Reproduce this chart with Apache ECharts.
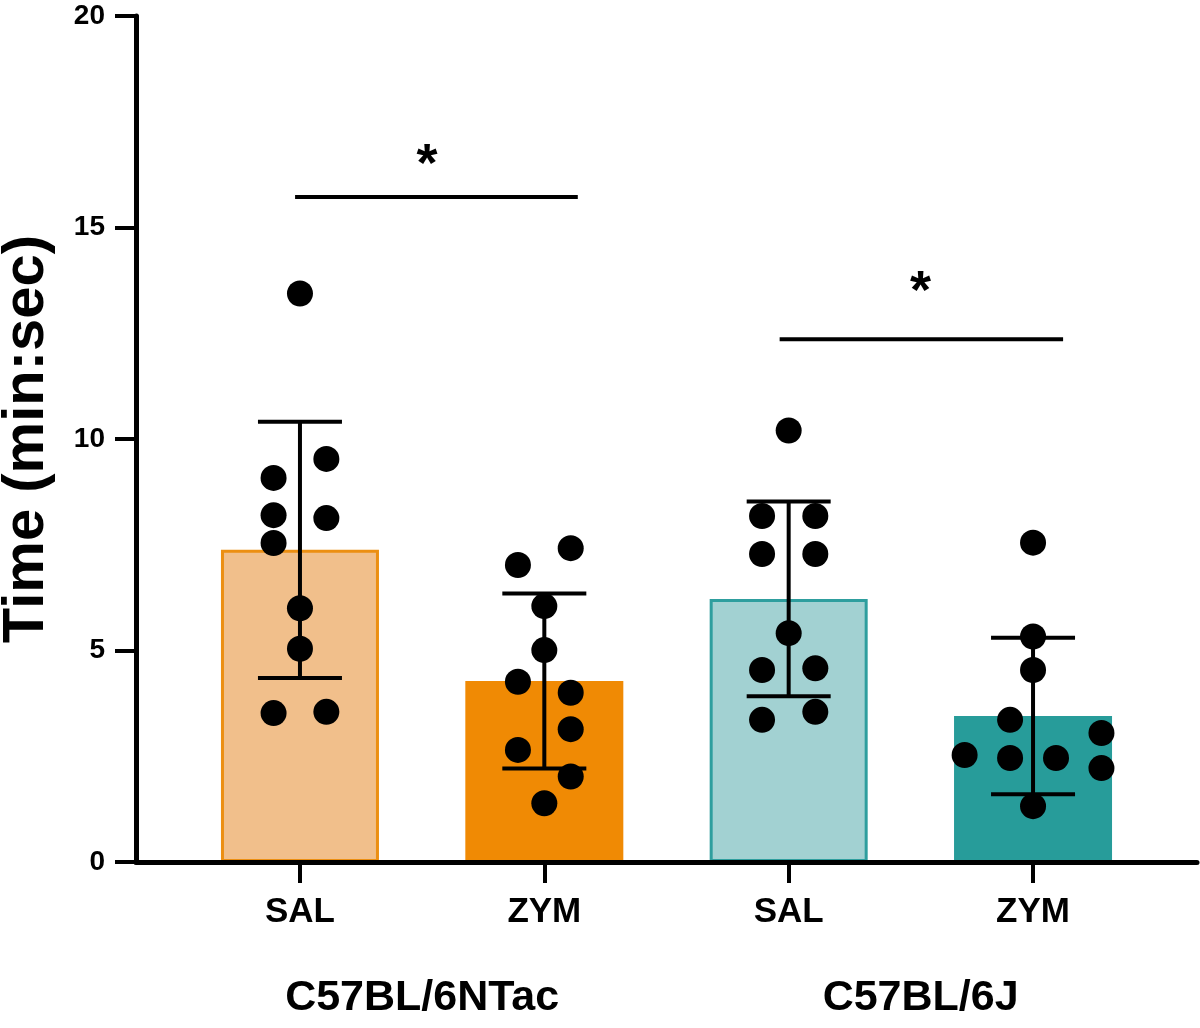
<!DOCTYPE html>
<html>
<head>
<meta charset="utf-8">
<script src="https://cdn.jsdelivr.net/npm/echarts@6/dist/echarts.min.js"></script>
<style>
  html, body { margin: 0; padding: 0; background: #ffffff; }
  #chart { width: 1200px; height: 1028px; }
</style>
</head>
<body>
<div id="chart"></div>
<script>
// ---- data ----
const categories = ['SAL', 'ZYM', 'SAL', 'ZYM'];
const categoryPos = [1, 2, 3, 4];
const groups = ['C57BL/6NTac', 'C57BL/6J'];
const groupPos = [1.5, 3.54];
const yTicks = [0, 5, 10, 15, 20];

const means = [7.38, 4.28, 6.22, 3.45];
const sds = [3.03, 2.07, 2.30, 1.85];

const dotsSal6N = [13.44, 9.53, 9.08, 8.20, 8.13, 7.54, 6.00, 5.04, 3.52, 3.55];
const jitSal6N  = [0, 0.108, -0.108, -0.108, 0.108, -0.108, 0, 0, -0.108, 0.108];
const dotsZym6N = [7.42, 7.02, 6.05, 5.01, 4.26, 4.00, 3.14, 2.65, 2.02, 1.39];
const jitZym6N  = [0.108, -0.108, 0, 0, -0.108, 0.108, 0.108, -0.108, 0.108, 0];
const dotsSal6J = [10.20, 8.18, 8.18, 7.28, 7.28, 5.41, 4.54, 4.58, 3.36, 3.55];
const jitSal6J  = [0, -0.109, 0.109, -0.109, 0.109, 0, -0.109, 0.109, -0.109, 0.109];
const dotsZym6J = [7.55, 5.33, 4.54, 3.36, 3.05, 2.53, 2.46, 2.46, 2.22, 1.32];
const jitZym6J  = [0, 0, 0, -0.094, 0.28, -0.28, -0.094, 0.094, 0.28, 0];

const sigFrom = [0.98, 2.963];
const sigTo   = [2.137, 4.123];
const sigY    = [15.72, 12.36];
const starX   = [1.52, 3.54];
const starY   = [16.45, 13.45];
const starText = ['*', '*'];

// ---- styles ----
const FONT = 'Liberation Sans';
const barStyles = [
  { color: '#F1BF8B', borderColor: '#EC8F12', borderWidth: 3, opacity: 1 },
  { color: '#F08A04', borderColor: '#F08A04', borderWidth: 0, opacity: 1 },
  { color: '#A2D1D2', borderColor: '#2E9E9E', borderWidth: 3, opacity: 1 },
  { color: '#279C9A', borderColor: '#279C9A', borderWidth: 0, opacity: 1 }
];

const allDots = [];
[[dotsSal6N, jitSal6N], [dotsZym6N, jitZym6N], [dotsSal6J, jitSal6J], [dotsZym6J, jitZym6J]]
  .forEach(function (pair, i) {
    pair[0].forEach(function (v, k) { allDots.push([categoryPos[i] + pair[1][k], v]); });
  });

const chart = echarts.init(document.getElementById('chart'), null, { renderer: 'canvas' });
chart.setOption({
  animation: false,
  backgroundColor: '#ffffff',
  grid: { left: 136, right: 3, top: 16, bottom: 166, outerBoundsMode: 'none' },
  xAxis: [
    {
      type: 'value', min: 0.329, max: 4.671, position: 'bottom', z: 10,
      axisLine: { show: true, lineStyle: { color: '#000', width: 5 } },
      axisTick: { show: true, customValues: categoryPos, length: 21, lineStyle: { color: '#000', width: 4 } },
      axisLabel: {
        show: true, customValues: categoryPos, margin: 33,
        fontFamily: FONT, fontWeight: 'bold', fontSize: 35, color: '#000',
        formatter: function (v) { return categories[categoryPos.indexOf(Math.round(v))] || ''; }
      },
      splitLine: { show: false }
    },
    {
      type: 'value', min: 0.329, max: 4.671, position: 'bottom', offset: 0,
      axisLine: { show: false }, axisTick: { show: false }, splitLine: { show: false },
      axisLabel: {
        show: true, customValues: groupPos, margin: 115,
        fontFamily: FONT, fontWeight: 'bold', fontSize: 43, color: '#000',
        formatter: function (v) {
          for (let i = 0; i < groupPos.length; i++) { if (Math.abs(groupPos[i] - v) < 1e-6) return groups[i]; }
          return '';
        }
      }
    }
  ],
  yAxis: {
    type: 'value', min: 0, max: 20, interval: 5, z: 10,
    name: 'Time (min:sec)', nameLocation: 'middle', nameGap: 80,
    nameTextStyle: { fontFamily: FONT, fontWeight: 'bold', fontSize: 58, color: '#000' },
    axisLine: { show: true, lineStyle: { color: '#000', width: 5 } },
    axisTick: { show: true, length: 21, lineStyle: { color: '#000', width: 4 } },
    axisLabel: {
      margin: 31, fontFamily: FONT, fontWeight: 'bold', fontSize: 28, color: '#000',
      customValues: yTicks
    },
    splitLine: { show: false }
  },
  series: [
    {
      type: 'bar', xAxisIndex: 0, barWidth: 158, z: 2,
      data: means.map(function (m, i) {
        return { value: [categoryPos[i], m], itemStyle: barStyles[i] };
      })
    },
    {
      type: 'custom', xAxisIndex: 0, z: 3,
      data: means.map(function (m, i) { return [categoryPos[i], m, sds[i]]; }),
      renderItem: function (params, api) {
        const x = api.value(0), m = api.value(1), s = api.value(2);
        const top = api.coord([x, m + s]);
        const bot = api.coord([x, m - s]);
        const hw = 42;
        const st = { stroke: '#000', lineWidth: 4 };
        return {
          type: 'group',
          children: [
            { type: 'line', shape: { x1: top[0], y1: top[1], x2: bot[0], y2: bot[1] }, style: st },
            { type: 'line', shape: { x1: top[0] - hw, y1: top[1], x2: top[0] + hw, y2: top[1] }, style: st },
            { type: 'line', shape: { x1: bot[0] - hw, y1: bot[1], x2: bot[0] + hw, y2: bot[1] }, style: st }
          ]
        };
      }
    },
    {
      type: 'scatter', xAxisIndex: 0, z: 4,
      symbol: 'circle', symbolSize: 26,
      itemStyle: { color: '#000', opacity: 1 },
      data: allDots
    },
    {
      type: 'custom', xAxisIndex: 0, z: 5,
      data: sigY.map(function (y, i) { return [sigFrom[i], sigTo[i], y]; }),
      renderItem: function (params, api) {
        const a = api.coord([api.value(0), api.value(2)]);
        const b = api.coord([api.value(1), api.value(2)]);
        return { type: 'line', shape: { x1: a[0], y1: a[1], x2: b[0], y2: b[1] }, style: { stroke: '#000', lineWidth: 4 } };
      }
    },
    {
      type: 'scatter', xAxisIndex: 0, z: 5,
      symbol: 'circle', symbolSize: 0,
      itemStyle: { color: '#000', opacity: 1 },
      data: starX.map(function (x, i) { return { value: [x, starY[i]], name: starText[i] }; }),
      label: {
        show: true, position: 'inside', formatter: '{b}',
        fontFamily: FONT, fontWeight: 'bold', fontSize: 54, color: '#000',
        textBorderWidth: 0, opacity: 1
      }
    }
  ]
});
</script>
</body>
</html>
